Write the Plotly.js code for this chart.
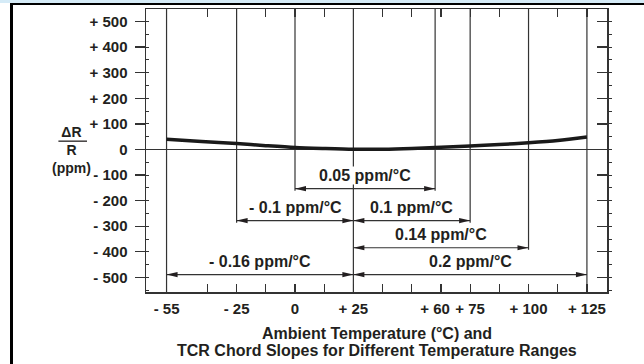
<!DOCTYPE html>
<html><head><meta charset="utf-8">
<script src="https://cdn.plot.ly/plotly-3.0.1.min.js"></script>
<style>
html,body{margin:0;padding:0;background:#fff;}
#wrap{position:relative;width:644px;height:364px;overflow:hidden;}
#chart{position:absolute;left:0;top:0;width:644px;height:364px;}
#topband{position:absolute;left:0;top:0;width:644px;height:3px;background:#d5ebf7;}
#frame{position:absolute;left:10px;top:3px;width:634px;height:361px;border-left:3px solid #000;border-top:2px solid #000;box-sizing:border-box;pointer-events:none;}
</style></head>
<body><div id="wrap"><div id="chart"></div><div id="topband"></div><div id="frame"></div></div>
<script>
// ---- data ----
const curveTemps = [-55, -40, -25, -12.5, 0, 12.5, 25, 37.5, 50, 60, 75, 87.5, 100, 112.5, 125];
const curveDeltaR = [40, 31, 23, 15, 8, 4, 1, 1, 4, 8, 14, 19, 26, 35, 49];
const xTickVals = [-55, -25, 0, 25, 60, 75, 100, 125];
const xTickText = ['- 55', '- 25', '0', '+ 25', '+ 60', '+ 75', '+ 100', '+ 125'];
const xMinorVals = [-37.5, -25, -12.5, 0, 12.5, 25, 37.5, 50, 62.5, 75, 87.5, 100, 112.5, 125];
const yTickVals = [500, 400, 300, 200, 100, 0, -100, -200, -300, -400, -500];
const yTickText = ['+ 500', '+ 400', '+ 300', '+ 200', '+ 100', '0', '- 100', '- 200', '- 300', '- 400', '- 500'];
const chordStart = [0, -25, 25, 25, -55, 25];
const chordEnd = [60, 25, 75, 100, 25, 125];
const chordLevel = [-153, -278, -278, -384, -489, -489];
const chordLabel = ['0.05 ppm/°C', '- 0.1 ppm/°C', '0.1 ppm/°C', '0.14 ppm/°C', '- 0.16 ppm/°C', '0.2 ppm/°C'];
const yTitleText = 'ΔR<br>R<br>(ppm)';
const xTitleLines = ['Ambient Temperature (°C) and', 'TCR Chord Slopes for Different Temperature Ranges'];

// ---- layout helpers ----
const xRange = [-63.8, 133.6];
const yRange = [-557, 549];
const ink = '#231f20';
const axisCol = '#333';
const F = 'Liberation Sans, Arial, sans-serif';

const lowest = Math.min(...chordLevel);
const lineBottom = xTickVals.map(t => {
  const rows = chordLevel.filter((r, i) => chordStart[i] === t || chordEnd[i] === t);
  if (!rows.length) return yRange[0];
  const m = Math.min(...rows);
  return m === lowest ? yRange[0] : m - 8;
});
const vx = [], vy = [];
xTickVals.forEach((t, i) => { vx.push(t, t, null); vy.push(yRange[1], lineBottom[i], null); });
const hx = [], hy = [];
chordStart.forEach((s, i) => { hx.push(s, chordEnd[i], null); hy.push(chordLevel[i], chordLevel[i], null); });

const traces = [
  {x: vx, y: vy, mode: 'lines', line: {color: axisCol, width: 1.2}, hoverinfo: 'skip', showlegend: false},
  {x: hx, y: hy, mode: 'lines', line: {color: axisCol, width: 1.2}, hoverinfo: 'skip', showlegend: false},
  {x: curveTemps, y: curveDeltaR, mode: 'lines', line: {color: '#1a1a1a', width: 3.5, shape: 'spline', smoothing: 0.8}, showlegend: false},
  {x: [null], y: [null], yaxis: 'y2', mode: 'lines', showlegend: false, hoverinfo: 'skip'}
];

const shapes = [];
chordStart.forEach((s, i) => {
  shapes.push({type: 'path', xref: 'x', yref: 'y', xsizemode: 'pixel', ysizemode: 'pixel',
    xanchor: chordEnd[i], yanchor: chordLevel[i], path: 'M0,0 L-11,2.6 L-11,-2.6 Z',
    fillcolor: ink, line: {width: 0}});
  shapes.push({type: 'path', xref: 'x', yref: 'y', xsizemode: 'pixel', ysizemode: 'pixel',
    xanchor: s, yanchor: chordLevel[i], path: 'M0,0 L11,2.6 L11,-2.6 Z',
    fillcolor: ink, line: {width: 0}});
});
// y-axis title fraction bar
shapes.push({type: 'line', xref: 'paper', yref: 'paper', x0: -0.19, x1: -0.128, y0: 0.533, y1: 0.533, line: {color: ink, width: 1.3}});

const annotations = chordLabel.map((txt, i) => {
  const mid = (chordStart[i] + chordEnd[i]) / 2;
  const crosses = xTickVals.some((t, k) => t > chordStart[i] && t < chordEnd[i] && lineBottom[k] < chordLevel[i] + 80);
  return {x: mid, y: chordLevel[i], xref: 'x', yref: 'y', text: txt, showarrow: false,
    xanchor: 'center', yanchor: 'middle', yshift: 13, font: {family: F, size: 16, color: ink, weight: 700},
    bgcolor: crosses ? '#ffffff' : 'rgba(0,0,0,0)', borderpad: 0};
});
annotations.push(
  {x: -0.162, y: 0.5018, xref: 'paper', yref: 'paper', text: yTitleText, showarrow: false, xanchor: 'center', yanchor: 'middle',
   align: 'center', borderpad: 0, font: {family: F, size: 14, color: ink, weight: 700}}
);
[-0.1449, -0.205].forEach((yy, i) => annotations.push(
  {x: 0.5, y: yy, xref: 'paper', yref: 'paper', text: xTitleLines[i], showarrow: false, xanchor: 'center', yanchor: 'middle',
   font: {family: F, size: 16, color: ink, weight: 700}}));

const layout = {
  width: 644, height: 364,
  margin: {l: 146, r: 37, t: 9, b: 72},
  paper_bgcolor: 'rgba(0,0,0,0)', plot_bgcolor: '#ffffff',
  showlegend: false,
  xaxis: {range: xRange, tickvals: xTickVals, ticktext: xTickText, ticks: '', showgrid: false, zeroline: false,
    showline: true, linecolor: axisCol, linewidth: 1.5, mirror: 'ticks', ticklabelstandoff: 2,
    tickfont: {family: F, size: 15, color: ink, weight: 700},
    minor: {tickvals: xMinorVals, ticks: 'inside', ticklen: 8, tickcolor: axisCol, tickwidth: 1.3, showgrid: false}},
  yaxis: {range: yRange, tickvals: yTickVals, ticktext: yTickText, ticks: 'outside', ticklen: 10, tickcolor: axisCol, tickwidth: 1.3,
    showgrid: false, zeroline: true, zerolinecolor: axisCol, zerolinewidth: 1.2,
    showline: true, linecolor: axisCol, linewidth: 1.5, ticklabelstandoff: 4,
    tickfont: {family: F, size: 15, color: ink, weight: 700},
    minor: {dtick: 50, ticks: 'inside', ticklen: 3, tickcolor: axisCol, tickwidth: 1, showgrid: false}},
  yaxis2: {range: yRange, overlaying: 'y', side: 'right', tickvals: yTickVals, ticks: 'inside', ticklen: 10, tickcolor: axisCol, tickwidth: 1.3,
    showticklabels: false, showgrid: false, zeroline: false, showline: true, linecolor: axisCol, linewidth: 1.5,
    minor: {dtick: 50, ticks: 'outside', ticklen: 3, tickcolor: axisCol, tickwidth: 1, showgrid: false}},
  shapes: shapes,
  annotations: annotations
};
Plotly.newPlot('chart', traces, layout, {staticPlot: true, displayModeBar: false});
</script></body></html>
